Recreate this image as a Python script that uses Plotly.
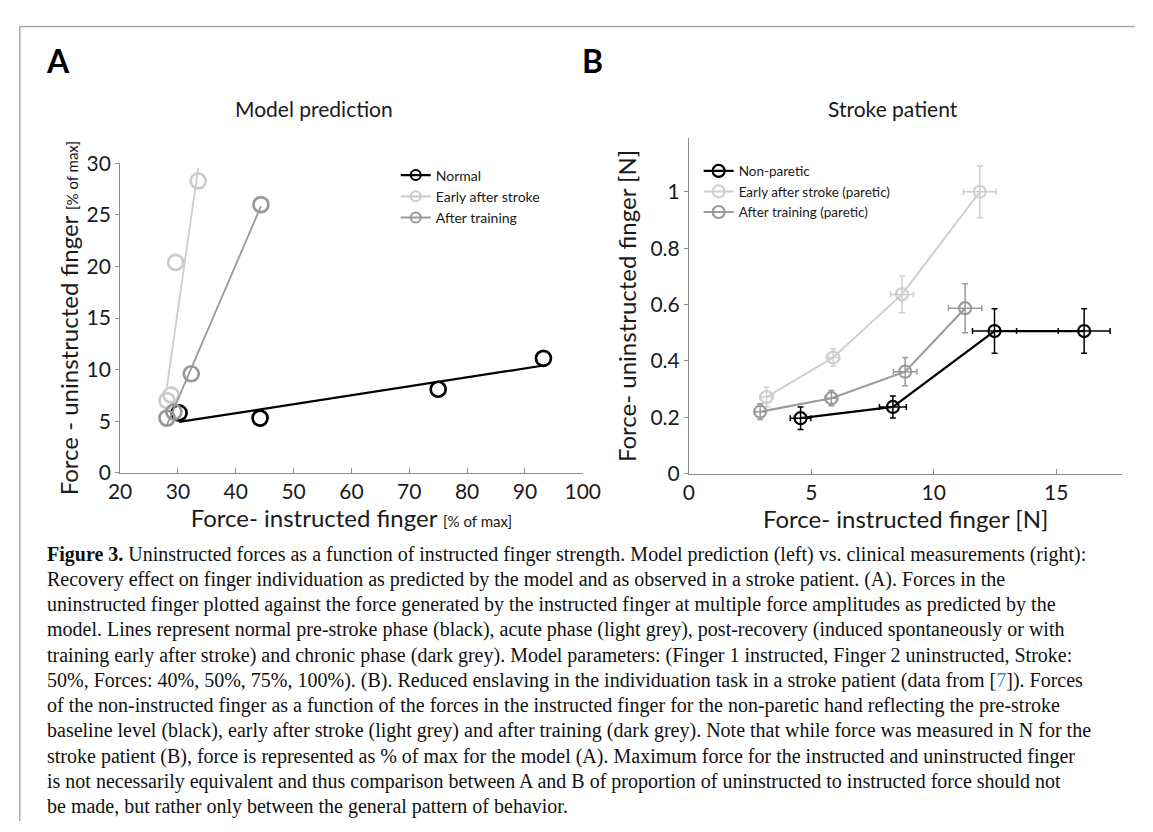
import numpy as np
import plotly.graph_objects as go

# ---------------- data ----------------
# Panel A: model prediction (% of max)
normal_x = [30.2, 44.2, 75.0, 93.2]
normal_y = [5.8, 5.3, 8.1, 11.1]
early_x = [28.1, 28.8, 29.6, 33.5]
early_y = [7.0, 7.55, 20.4, 28.3]
train_x = [28.1, 29.3, 32.3, 44.35]
train_y = [5.3, 5.9, 9.6, 26.0]

# Panel B: stroke patient (N)
np_x = [4.56, 8.33, 12.48, 16.14]
np_y = [0.197, 0.237, 0.506, 0.506]
np_ex = [0.42, 0.55, 0.9, 1.06]
np_ey = [0.04, 0.039, 0.079, 0.079]

es_x = [3.17, 5.89, 8.7, 11.88]
es_y = [0.272, 0.412, 0.636, 1.0]
es_ex = [0.27, 0.27, 0.47, 0.67]
es_ey = [0.035, 0.03, 0.065, 0.092]

at_x = [2.91, 5.82, 8.83, 11.28]
at_y = [0.22, 0.268, 0.362, 0.587]
at_ex = [0.23, 0.25, 0.48, 0.68]
at_ey = [0.028, 0.027, 0.05, 0.087]

xticks_a = [20, 30, 40, 50, 60, 70, 80, 90, 100]
yticks_a = [0, 5, 10, 15, 20, 25, 30]
xticks_b = [0, 5, 10, 15]
yticks_b = [0, 0.2, 0.4, 0.6, 0.8, 1.0]
yticklabels_b = ["0", "0.2", "0.4", "0.6", "0.8", "1"]

caption_lines = [
    "<b>Figure 3.</b> Uninstructed forces as a function of instructed finger strength. Model prediction (left) vs. clinical measurements (right):",
    "Recovery effect on finger individuation as predicted by the model and as observed in a stroke patient. (A). Forces in the",
    "uninstructed finger plotted against the force generated by the instructed finger at multiple force amplitudes as predicted by the",
    "model. Lines represent normal pre-stroke phase (black), acute phase (light grey), post-recovery (induced spontaneously or with",
    "training early after stroke) and chronic phase (dark grey). Model parameters: (Finger 1 instructed, Finger 2 uninstructed, Stroke:",
    "50%, Forces: 40%, 50%, 75%, 100%). (B). Reduced enslaving in the individuation task in a stroke patient (data from [<span style='color:#2a8fd0'>7</span>]). Forces",
    "of the non-instructed finger as a function of the forces in the instructed finger for the non-paretic hand reflecting the pre-stroke",
    "baseline level (black), early after stroke (light grey) and after training (dark grey). Note that while force was measured in N for the",
    "stroke patient (B), force is represented as % of max for the model (A). Maximum force for the instructed and uninstructed finger",
    "is not necessarily equivalent and thus comparison between A and B of proportion of uninstructed to instructed force should not",
    "be made, but rather only between the general pattern of behavior.",
]

BLACK = "#000000"
LIGHT = "#cccccc"
DARK = "#999999"
B_LIGHT = "#cfcfcf"
B_DARK = "#9a9a9a"

W, H = 1153, 832
def px(x):
    return x / W
def py(y):
    return 1 - y / H

FONT = "Lato"

fig = go.Figure()

# ---------------- Panel A ----------------
seriesA = [
    ("Normal", normal_x, normal_y, BLACK, 2.2),
    ("Early after stroke", early_x, early_y, LIGHT, 1.8),
    ("After training", train_x, train_y, DARK, 1.8),
]
for name, xs, ys, col, lw in seriesA:
    # regression line through the model points
    k, b = np.polyfit(xs, ys, 1)
    xl = np.array([min(xs), max(xs)])
    fig.add_trace(go.Scatter(x=xl, y=k * xl + b, mode="lines",
                             line=dict(color=col, width=lw),
                             showlegend=False, hoverinfo="skip",
                             xaxis="x", yaxis="y"))
    fig.add_trace(go.Scatter(x=xs, y=ys, mode="markers",
                             marker=dict(symbol="circle-open", size=15,
                                         color=col, line=dict(width=2.7, color=col)),
                             showlegend=False, name=name,
                             xaxis="x", yaxis="y"))
    # legend entry (line + circle)
    fig.add_trace(go.Scatter(x=[None], y=[None], mode="lines+markers", name=name,
                             line=dict(color=col, width=2.2),
                             marker=dict(symbol="circle-open", size=10,
                                         color=col, line=dict(width=2, color=col)),
                             legend="legend", xaxis="x", yaxis="y"))

# ---------------- Panel B ----------------
seriesB = [
    ("Non-paretic", np_x, np_y, np_ex, np_ey, BLACK, 2.2),
    ("Early after stroke (paretic)", es_x, es_y, es_ex, es_ey, B_LIGHT, 2.0),
    ("After training (paretic)", at_x, at_y, at_ex, at_ey, B_DARK, 2.0),
]
for name, xs, ys, ex, ey, col, lw in seriesB:
    fig.add_trace(go.Scatter(
        x=xs, y=ys, mode="lines+markers", name=name,
        line=dict(color=col, width=lw),
        marker=dict(symbol="circle-open", size=12, color=col,
                    line=dict(width=2.2, color=col)),
        error_x=dict(type="data", array=ex, color=col, thickness=1.5, width=3),
        error_y=dict(type="data", array=ey, color=col, thickness=1.5, width=3),
        legend="legend2", xaxis="x2", yaxis="y2"))

axis_common = dict(showgrid=False, zeroline=False, showline=True,
                   linecolor="#8c8c8c", linewidth=1, tickcolor="#8c8c8c",
                   tickfont=dict(family=FONT, size=21, color="#1a1a1a"))

fig.update_layout(
    width=W, height=H,
    margin=dict(l=0, r=0, t=0, b=0),
    paper_bgcolor="white", plot_bgcolor="white",
    font=dict(family=FONT, color="#1a1a1a"),
    xaxis=dict(domain=[px(111), px(586)], range=[20, 100], tickvals=xticks_a,
               ticks="inside", ticklen=5, anchor="y",
               title=dict(text="Force- instructed finger <span style='font-size:15px'>[% of max]</span>",
                          font=dict(family=FONT, size=24, color="#1a1a1a"), standoff=6),
               **axis_common),
    yaxis=dict(domain=[py(473), py(154)], range=[0, 30], tickvals=yticks_a,
               ticks="outside", ticklen=4, anchor="x",
               title=dict(text="Force - uninstructed finger <span style='font-size:15px'>[% of max]</span>",
                          font=dict(family=FONT, size=24, color="#1a1a1a"), standoff=1),
               **axis_common),
    xaxis2=dict(domain=[px(695), px(1140)], range=[0, 17.7], tickvals=xticks_b,
                ticks="inside", ticklen=5, anchor="y2",
                title=dict(text="Force- instructed finger [N]",
                           font=dict(family=FONT, size=24, color="#1a1a1a"), standoff=6),
                **axis_common),
    yaxis2=dict(domain=[py(474), py(128)], range=[0, 1.19], tickvals=yticks_b,
                ticktext=yticklabels_b, ticks="outside", ticklen=4, anchor="x2",
                title=dict(text="Force- uninstructed finger [N]",
                           font=dict(family=FONT, size=24, color="#1a1a1a"), standoff=6),
                **axis_common),
    legend=dict(x=px(394), y=py(150), xanchor="left", yanchor="top",
                bgcolor="rgba(0,0,0,0)", borderwidth=0,
                font=dict(family=FONT, size=14, color="#1a1a1a"),
                tracegroupgap=0, itemclick=False),
    legend2=dict(x=px(705), y=py(146), xanchor="left", yanchor="top",
                 bgcolor="rgba(0,0,0,0)", borderwidth=0,
                 font=dict(family=FONT, size=13.5, color="#1a1a1a"),
                 tracegroupgap=0, itemclick=False),
    showlegend=True,
)

annotations = [
    dict(text="<b>A</b>", x=px(33), y=py(48), xanchor="left", yanchor="middle",
         font=dict(family=FONT, size=32, color="black")),
    dict(text="<b>B</b>", x=px(583), y=py(48), xanchor="left", yanchor="middle",
         font=dict(family=FONT, size=32, color="black")),
    dict(text="Model prediction", x=px(310), y=py(97), xanchor="center", yanchor="middle",
         font=dict(family=FONT, size=21, color="#1a1a1a")),
    dict(text="Stroke patient", x=px(905), y=py(97), xanchor="center", yanchor="middle",
         font=dict(family=FONT, size=21, color="#1a1a1a")),
]
for i, line in enumerate(caption_lines):
    annotations.append(dict(text=line, x=px(34), y=py(557 + 26 * i),
                            xanchor="left", yanchor="middle",
                            font=dict(family="Liberation Serif", size=20, color="#111111")))
for a in annotations:
    a.update(xref="paper", yref="paper", showarrow=False)
fig.update_layout(annotations=annotations)

# outer frame of the figure
fig.add_shape(type="line", xref="paper", yref="paper", x0=px(8), x1=1, y0=py(13), y1=py(13),
              line=dict(color="#aaaaaa", width=1.5))
fig.add_shape(type="line", xref="paper", yref="paper", x0=px(8), x1=px(8), y0=py(13), y1=0,
              line=dict(color="#aaaaaa", width=1.5))

fig.write_html("out.html")
